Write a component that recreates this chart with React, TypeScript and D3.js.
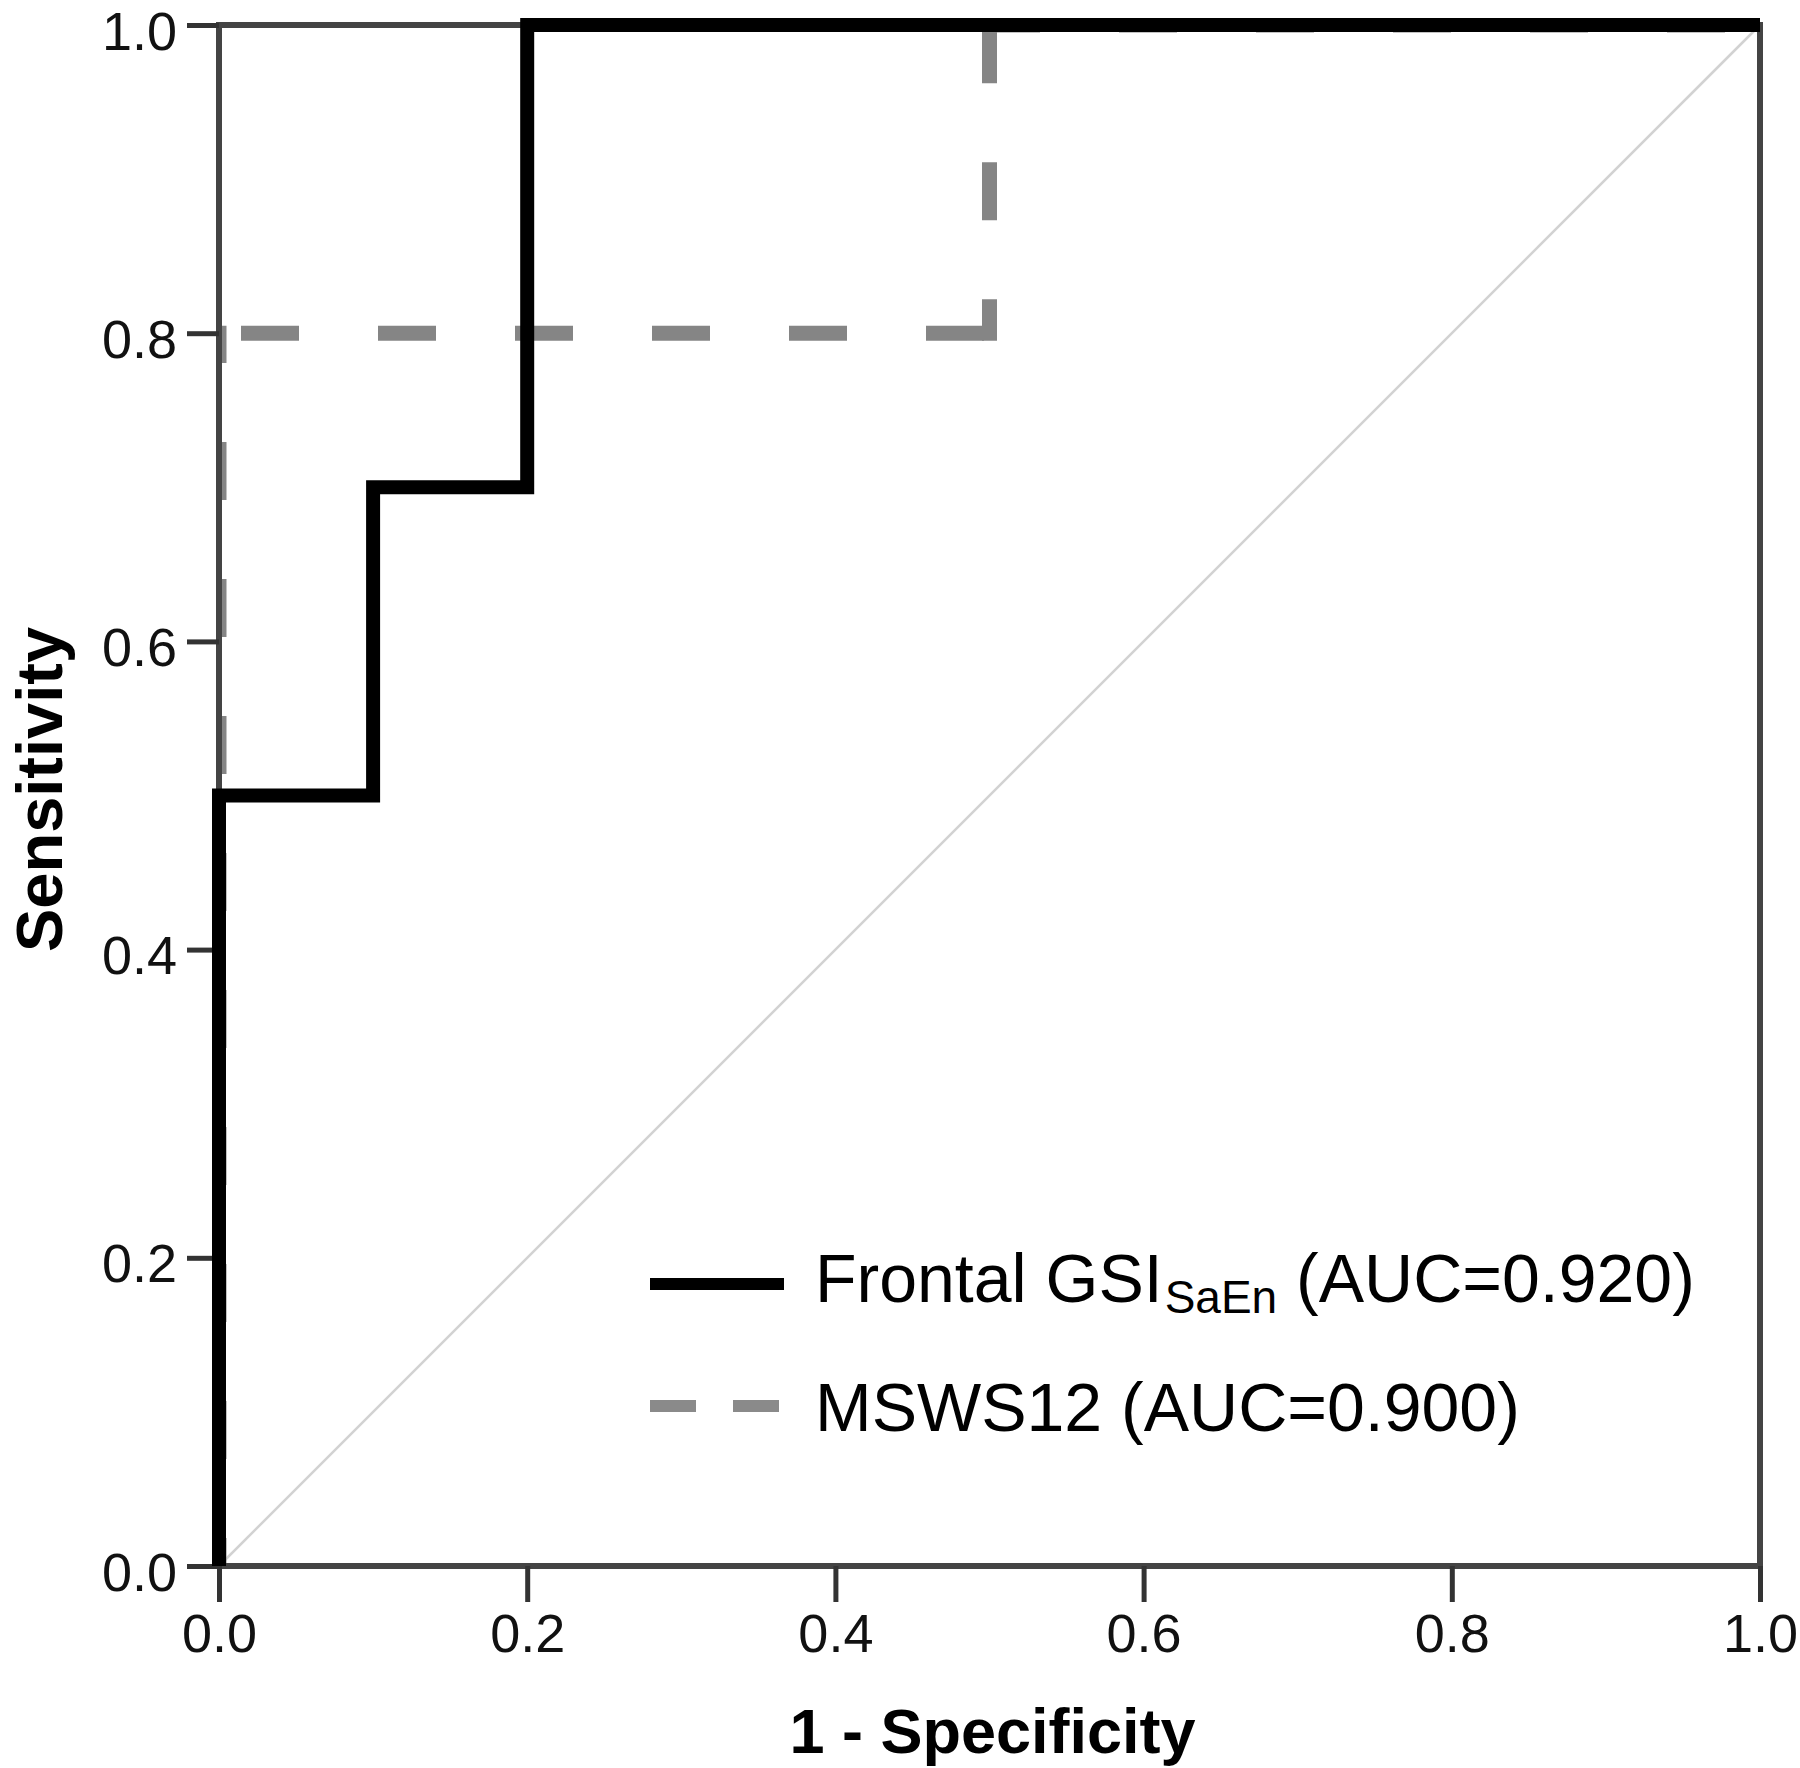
import React, { useRef, useEffect } from 'react';
import * as d3 from 'd3';

// ROC points
const frontalFpr = [0, 0, 0.1, 0.1, 0.2, 0.2, 1];
const frontalTpr = [0, 0.5, 0.5, 0.7, 0.7, 1, 1];
const mswsFpr = [0, 0, 0.5, 0.5, 1];
const mswsTpr = [0, 0.8, 0.8, 1, 1];

const tickValues = [0, 0.2, 0.4, 0.6, 0.8, 1.0];
const xTitle = '1 - Specificity';
const yTitle = 'Sensitivity';

const FONT = '"Liberation Sans", Arial, sans-serif';

const RocChart = ({ width, height }) => {
  const chartRef = useRef(null);

  useEffect(() => {
    const margin = { top: 25, right: 40, bottom: 202, left: 219 };
    const w = width - margin.left - margin.right;
    const h = height - margin.top - margin.bottom;

    d3.select(chartRef.current).selectAll('*').remove();

    const svg = d3.select(chartRef.current)
      .append('svg')
      .attr('width', width)
      .attr('height', height)
      .style('position', 'absolute')
      .style('left', 0)
      .style('top', 0)
      .style('background', '#fff');

    // keep the dashed curve inside the plot box, as SPSS does
    svg.append('defs').append('clipPath')
      .attr('id', 'plot-clip')
      .append('rect')
      .attr('x', 0).attr('y', 0)
      .attr('width', w).attr('height', h);

    const g = svg.append('g').attr('transform', `translate(${margin.left},${margin.top})`);

    const x = d3.scaleLinear().domain([0, 1]).range([0, w]);
    const y = d3.scaleLinear().domain([0, 1]).range([h, 0]);

    // reference diagonal
    g.append('line')
      .attr('x1', x(0)).attr('y1', y(0))
      .attr('x2', x(1)).attr('y2', y(1))
      .attr('stroke', '#d2d2d2')
      .attr('stroke-width', 2.5);

    // MSWS12 dashed line, each segment restarts its dash pattern
    const msPts = mswsFpr.map((v, i) => [v, mswsTpr[i]]);
    const msOffsets = [22.5, 107.5, 16.5, 0];
    const msGroup = g.append('g').attr('clip-path', 'url(#plot-clip)');
    d3.pairs(msPts).forEach(([a, b], i) => {
      msGroup.append('line')
        .attr('x1', x(a[0])).attr('y1', y(a[1]))
        .attr('x2', x(b[0])).attr('y2', y(b[1]))
        .attr('stroke', '#858585')
        .attr('stroke-width', 15)
        .attr('stroke-linecap', 'square')
        .attr('stroke-dasharray', '43 94')
        .attr('stroke-dashoffset', msOffsets[i]);
    });

    // frame
    g.append('rect')
      .attr('x', 0).attr('y', 0)
      .attr('width', w).attr('height', h)
      .attr('fill', 'none')
      .attr('stroke', '#444')
      .attr('stroke-width', 6);

    // axes
    const xAxis = g.append('g')
      .attr('transform', `translate(0,${h})`)
      .call(d3.axisBottom(x).tickValues(tickValues).tickSize(36).tickSizeOuter(0).tickFormat(d3.format('.1f')));
    const yAxis = g.append('g')
      .call(d3.axisLeft(y).tickValues(tickValues).tickSize(32).tickSizeOuter(0).tickFormat(d3.format('.1f')));

    [xAxis, yAxis].forEach(ax => {
      ax.select('.domain').remove();
      ax.selectAll('line').attr('stroke', '#333').attr('stroke-width', 5);
      ax.selectAll('text')
        .attr('fill', '#111')
        .style('font-family', FONT)
        .style('font-size', '54px');
    });
    xAxis.selectAll('text').attr('y', 86).attr('dy', 0);
    yAxis.selectAll('text').attr('x', -42).attr('dy', 0).attr('y', 24);

    // Frontal GSI solid line
    const line = d3.line().x(d => x(d[0])).y(d => y(d[1]));
    g.append('path')
      .datum(frontalFpr.map((v, i) => [v, frontalTpr[i]]))
      .attr('d', line)
      .attr('fill', 'none')
      .attr('stroke', '#000')
      .attr('stroke-width', 14)
      .attr('stroke-linejoin', 'miter');

    // axis titles
    svg.append('text')
      .attr('x', margin.left + w / 2 + 3)
      .attr('y', 1753)
      .attr('text-anchor', 'middle')
      .style('font-family', FONT)
      .style('font-weight', 'bold')
      .style('font-size', '63px')
      .text(xTitle);

    svg.append('text')
      .attr('transform', `translate(62,${margin.top + h / 2 - 6}) rotate(-90)`)
      .attr('text-anchor', 'middle')
      .style('font-family', FONT)
      .style('font-weight', 'bold')
      .style('font-size', '65px')
      .text(yTitle);

    // legend
    const legend = svg.append('g');
    legend.append('line')
      .attr('x1', 650).attr('x2', 784)
      .attr('y1', 1284).attr('y2', 1284)
      .attr('stroke', '#000')
      .attr('stroke-width', 12);
    const t1 = legend.append('text')
      .attr('x', 815).attr('y', 1302)
      .style('font-family', FONT)
      .style('font-size', '68px');
    t1.append('tspan').text('Frontal GSI');
    t1.append('tspan').attr('dx', 2).attr('dy', 11).style('font-size', '46px').text('SaEn');
    t1.append('tspan').attr('dy', -11).text(' (AUC=0.920)');

    legend.append('line')
      .attr('x1', 650).attr('x2', 779)
      .attr('y1', 1406).attr('y2', 1406)
      .attr('stroke', '#8a8a8a')
      .attr('stroke-width', 12)
      .attr('stroke-dasharray', '46 37');
    legend.append('text')
      .attr('x', 815).attr('y', 1431)
      .style('font-family', FONT)
      .style('font-size', '68px')
      .text('MSWS12 (AUC=0.900)');
  }, [width, height]);

  return <div ref={chartRef}></div>;
};

export default function App() {
  return <RocChart width={1800} height={1768} />;
}
